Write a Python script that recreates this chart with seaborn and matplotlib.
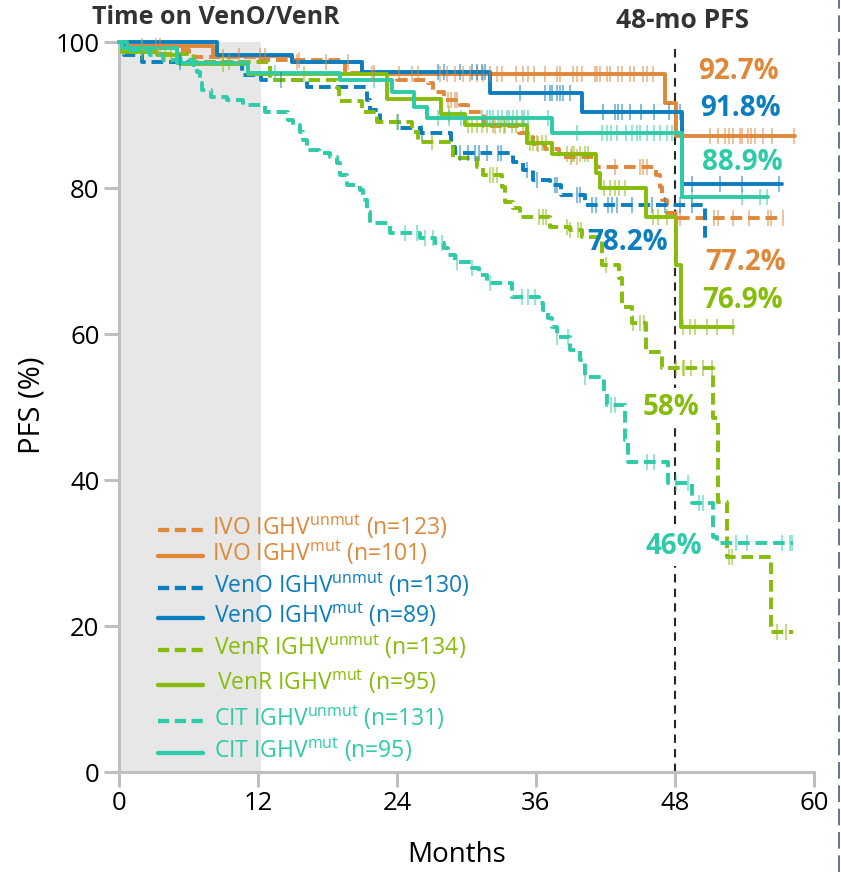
import numpy as np
import pandas as pd
import matplotlib
matplotlib.use("Agg")
import matplotlib.pyplot as plt
from matplotlib.lines import Line2D
import seaborn as sns

sns.set_theme(style="white")
plt.rcParams["font.family"] = ["Open Sans", "DejaVu Sans"]
plt.rcParams["mathtext.fontset"] = "custom"
plt.rcParams["mathtext.rm"] = "Open Sans"
plt.rcParams["mathtext.it"] = "Open Sans:italic"
plt.rcParams["mathtext.bf"] = "Open Sans:bold"

ORANGE = "#E0883A"
BLUE = "#0B7EC0"
GREEN = "#86BC0A"
TEAL = "#2ECBA9"

# ---- Kaplan-Meier step data: event times (months), PFS (%) after each step,
# ---- last follow-up time, and censoring times
ivo_unmut_t = [0.5, 5.0, 6.0, 12.0, 19.5, 24.0, 26.7, 27.1, 28.1, 29.4, 30.1, 31.5,
               34.5, 35.7, 36.8, 38.0, 41.2, 46.4, 46.7, 46.9, 47.3, 48.0]
ivo_unmut_s = [99.5, 98.9, 98.0, 97.5, 95.8, 94.8, 94.4, 93.2, 92.1, 91.4, 90.4, 88.5,
               87.5, 86.0, 85.3, 84.2, 82.9, 81.8, 80.1, 78.4, 76.6, 75.9]
ivo_unmut_end = 57.3
ivo_unmut_cens = [3.5, 9.0, 15.5, 22.0, 28.4, 28.7, 29.0, 29.2, 32.5, 33.2, 36.2, 39.0,
                  39.5, 42.8, 45.0, 45.2, 45.6, 48.2, 48.4, 51.4, 51.7, 53.0, 54.4,
                  56.0, 56.3, 57.3]

ivo_mut_t = [0.8, 8.1, 14.9, 21.0, 47.1, 48.1]
ivo_mut_s = [99.4, 98.1, 97.2, 95.6, 91.6, 87.1]
ivo_mut_end = 58.4
ivo_mut_cens = [2.0, 3.2, 10.4, 12.2, 12.6, 15.4, 17.9, 19.8, 21.8, 24.2, 25.3, 25.8,
                27.7, 28.3, 29.0, 29.7, 30.3, 30.9, 31.4, 32.0, 32.6, 33.1, 34.3, 34.9,
                35.3, 35.8, 36.8, 37.8, 38.1, 39.2, 39.5, 40.0, 41.1, 41.3, 41.5, 42.1,
                42.4, 43.1, 43.4, 44.1, 44.5, 45.2, 45.6, 46.1, 51.0, 51.7, 52.3, 52.7,
                53.0, 53.6, 53.8, 54.3, 54.6, 54.9, 55.6, 56.4, 58.3]

veno_unmut_t = [0.4, 2.0, 10.6, 12.3, 16.2, 21.4, 21.7, 22.5, 24.2, 26.1, 28.7, 29.0,
                34.0, 34.9, 35.7, 37.2, 38.2, 40.2, 50.6]
veno_unmut_s = [98.2, 97.2, 95.5, 94.8, 93.8, 92.1, 90.7, 89.0, 88.2, 87.5, 85.6, 84.8,
                83.6, 82.5, 81.1, 80.4, 79.0, 77.7, 73.2]
veno_unmut_end = 50.8
veno_unmut_cens = [5.3, 14.0, 24.1, 26.2, 29.4, 30.1, 30.7, 31.1, 31.8, 32.7, 33.0,
                   35.2, 36.1, 37.6, 37.8, 39.5, 39.8, 40.8, 41.2, 42.2, 42.6, 43.0,
                   44.3, 46.0, 47.1, 48.4, 49.5]

veno_mut_t = [8.5, 14.9, 21.0, 32.0, 40.0, 48.6]
veno_mut_s = [98.2, 97.3, 95.9, 93.0, 90.4, 80.5]
veno_mut_end = 57.2
veno_mut_cens = [27.5, 28.1, 29.4, 30.5, 30.9, 31.3, 31.6, 34.6, 36.8, 37.2, 37.4,
                 37.8, 38.1, 38.3, 38.9, 41.8, 42.8, 43.1, 43.4, 44.1, 45.1, 46.2,
                 47.5, 48.4, 49.5, 51.9, 53.8, 57.0]

venr_unmut_t = [0.3, 3.0, 6.5, 13.0, 18.8, 19.0, 21.0, 22.3, 25.3, 25.8, 28.8, 30.9,
                31.4, 33.1, 33.3, 34.0, 34.6, 37.2, 38.9, 40.0, 41.7, 43.2, 43.4, 44.3,
                45.5, 46.9, 51.3, 51.7, 52.5, 56.3]
venr_unmut_s = [99.0, 98.4, 97.2, 94.8, 93.7, 91.9, 90.4, 89.0, 87.7, 86.3, 84.1, 82.9,
                81.8, 80.1, 78.1, 77.3, 76.0, 74.7, 74.2, 73.3, 69.4, 67.7, 63.7, 61.5,
                57.5, 55.3, 48.5, 37.0, 29.4, 19.2]
venr_unmut_end = 58.2
venr_unmut_cens = [4.0, 9.5, 24.0, 27.0, 32.0, 32.3, 32.6, 36.3, 36.6, 36.9, 38.7,
                   38.9, 39.6, 39.9, 42.0, 44.4, 45.0, 45.3, 48.1, 48.7, 48.8, 49.4,
                   50.4, 51.2, 52.7, 52.9, 56.8, 57.6]

venr_mut_t = [0.3, 3.3, 5.3, 11.1, 23.1, 27.8, 29.9, 35.2, 37.4, 41.2, 41.5, 45.5,
              48.1, 48.5]
venr_mut_s = [98.6, 98.2, 97.0, 95.6, 92.2, 90.2, 88.6, 86.2, 84.7, 82.0, 80.0, 76.0,
              69.4, 61.0]
venr_mut_end = 53.0
venr_mut_cens = [2.0, 4.5, 9.0, 16.0, 28.5, 30.1, 30.5, 30.9, 31.3, 31.8, 32.3, 32.9,
                 33.3, 33.9, 34.3, 34.9, 35.5, 35.7, 36.1, 36.5, 36.9, 38.7, 39.1,
                 39.3, 39.8, 40.2, 40.5, 41.9, 42.4, 42.8, 43.2, 43.7, 46.1, 46.5,
                 47.3, 48.7, 49.3, 49.7, 50.8, 51.6, 53.0]

cit_unmut_t = [0.7, 2.7, 3.8, 6.4, 6.7, 7.0, 7.2, 7.9, 9.3, 10.7, 12.6, 14.6, 15.0,
               15.6, 15.9, 16.2, 17.3, 18.2, 18.8, 19.1, 19.7, 20.8, 21.1, 21.4, 21.7,
               23.4, 26.0, 27.3, 28.1, 28.4, 29.0, 30.5, 31.1, 31.8, 33.9, 36.3, 36.6,
               37.0, 37.4, 37.8, 38.9, 39.8, 40.2, 41.9, 42.1, 43.7, 43.9, 47.4, 49.5,
               51.3, 51.6]
cit_unmut_s = [98.9, 98.2, 97.6, 96.8, 95.9, 94.4, 93.4, 92.5, 92.1, 91.4, 90.4, 89.3,
               88.6, 87.7, 86.6, 85.2, 84.8, 84.2, 83.4, 81.8, 80.4, 79.7, 78.4, 76.7,
               75.2, 73.8, 73.2, 72.5, 71.8, 70.8, 69.9, 69.0, 68.1, 67.0, 65.1, 64.2,
               63.3, 62.2, 61.0, 59.6, 57.8, 56.4, 54.1, 52.0, 50.3, 45.5, 42.5, 39.6,
               36.8, 32.2, 31.4]
cit_unmut_end = 58.2
cit_unmut_cens = [24.7, 25.7, 26.4, 27.1, 27.9, 29.2, 30.5, 32.0, 34.8, 35.3, 35.9,
                  37.8, 38.8, 40.2, 42.5, 42.8, 45.6, 46.2, 48.1, 49.1, 50.1, 50.4,
                  53.3, 54.2, 57.2, 57.9, 58.1]

cit_mut_t = [0.3, 5.0, 11.1, 19.1, 23.6, 25.5, 26.6, 37.4, 48.6]
cit_mut_s = [99.2, 97.1, 95.8, 94.8, 93.2, 91.1, 89.6, 87.5, 78.8]
cit_mut_end = 56.0
cit_mut_cens = [2.0, 13.5, 22.0, 27.5, 28.5, 29.5, 31.3, 31.8, 32.0, 32.3, 32.7, 33.1,
                33.5, 33.7, 34.0, 34.4, 34.8, 35.0, 35.3, 37.0, 39.5, 41.7, 42.1, 42.5,
                43.0, 43.8, 44.3, 44.7, 45.0, 45.6, 46.2, 46.7, 47.3, 47.7, 49.5, 53.8,
                55.3, 55.9]

# legend content
arm_names = ["IVO", "IVO", "VenO", "VenO", "VenR", "VenR", "CIT", "CIT"]
ighv_status = ["unmut", "mut", "unmut", "mut", "unmut", "mut", "unmut", "mut"]
n_patients = [123, 101, 130, 89, 134, 95, 131, 95]

# 48-month PFS annotations
pfs48_text = ["92.7%", "91.8%", "88.9%", "78.2%", "77.2%", "76.9%", "58%", "46%"]
pfs48_color = [ORANGE, BLUE, TEAL, BLUE, ORANGE, GREEN, GREEN, TEAL]

x_ticks = [0, 12, 24, 36, 48, 60]
y_ticks = [0, 20, 40, 60, 80, 100]
treatment_window = 12.3
landmark = 48

series = [
    (ivo_unmut_t, ivo_unmut_s, ivo_unmut_end, ivo_unmut_cens, ORANGE, True),
    (ivo_mut_t, ivo_mut_s, ivo_mut_end, ivo_mut_cens, ORANGE, False),
    (veno_unmut_t, veno_unmut_s, veno_unmut_end, veno_unmut_cens, BLUE, True),
    (veno_mut_t, veno_mut_s, veno_mut_end, veno_mut_cens, BLUE, False),
    (venr_unmut_t, venr_unmut_s, venr_unmut_end, venr_unmut_cens, GREEN, True),
    (venr_mut_t, venr_mut_s, venr_mut_end, venr_mut_cens, GREEN, False),
    (cit_unmut_t, cit_unmut_s, cit_unmut_end, cit_unmut_cens, TEAL, True),
    (cit_mut_t, cit_mut_s, cit_mut_end, cit_mut_cens, TEAL, False),
]

DASH = (0, (3.0, 1.5))
LW = 2.8


def step_frame(times, surv, end):
    x = [0.0] + list(times) + [end]
    y = [100.0] + list(surv) + [surv[-1]]
    return pd.DataFrame({"Months": x, "PFS": y})


def surv_at(t, times, surv):
    i = np.searchsorted(times, t, side="right")
    return 100.0 if i == 0 else surv[i - 1]


fig = plt.figure(figsize=(8.41, 8.72), dpi=100)
ax = fig.add_axes([119 / 841, 100 / 872, 695 / 841, 730 / 872])


def at(px, py):
    """Pixel position in the figure -> data coordinates (layout helper)."""
    return (px - 119) / (695 / 60), (772 - py) / 7.30


# shaded on-treatment window
ax.fill_between([0, treatment_window], 0, 100, color="#E7E7E7", lw=0, zorder=0)

# landmark line
ax.plot([landmark, landmark], [0, at(0, 46)[1]], color="#262626", lw=1.5,
        ls=(0, (4, 3)), clip_on=False, zorder=1)

for times, surv, end, cens, color, dashed in series:
    df = step_frame(times, surv, end)
    sns.lineplot(data=df, x="Months", y="PFS", drawstyle="steps-post",
                 estimator=None, sort=False, color=color, lw=LW,
                 linestyle=DASH if dashed else "-", dash_capstyle="butt",
                 ax=ax, clip_on=False, zorder=3)
    cdf = pd.DataFrame({"Months": cens,
                        "PFS": [surv_at(t, times, surv) for t in cens]})
    sns.scatterplot(data=cdf, x="Months", y="PFS", marker="|", s=130,
                    color=color, linewidth=1.3, alpha=0.55, ax=ax,
                    clip_on=False, zorder=4)

# axes styling
ax.set_xlim(0, 60)
ax.set_ylim(0, 100)
ax.set_xticks(x_ticks)
ax.set_yticks(y_ticks)
for side in ("top", "right"):
    ax.spines[side].set_visible(False)
for side in ("left", "bottom"):
    ax.spines[side].set_color("#BFBFBF")
    ax.spines[side].set_linewidth(2.2)
ax.tick_params(axis="both", which="major", direction="out", length=11,
               width=2.2, color="#BFBFBF", labelsize=18.5, labelcolor="black",
               left=True, bottom=True, pad=3)
ax.set_xlabel("Months", fontsize=20, color="black")
ax.set_ylabel("PFS (%)", fontsize=21, color="black")
ax.xaxis.set_label_coords(0.486, -0.114)
ax.xaxis.label.set_va("center")
ax.yaxis.set_label_coords(-0.125, 0.503)
ax.yaxis.label.set_va("center")
ax.grid(False)

# titles
ax.text(*at(92, 18), "Time on VenO/VenR", ha="left", va="center", fontsize=18,
        fontweight="bold", color="#333333", clip_on=False)
ax.text(*at(683, 21), "48-mo PFS", ha="center", va="center", fontsize=19,
        fontweight="bold", color="#333333", clip_on=False)

# 48-month labels
label_pos = [(738, 72), (740, 108), (742, 162), (628, 243), (746, 262),
             (743, 301), (671, 407), (674, 547)]
for txt, col, (px, py) in zip(pfs48_text, pfs48_color, label_pos):
    kw = {}
    if txt in ("58%", "46%"):
        kw["bbox"] = dict(boxstyle="square,pad=0.15", fc="white", ec="none")
    ax.text(*at(px, py), txt, ha="center", va="center", fontsize=20,
            fontweight="bold", color=col, zorder=6, **kw)

# legend
legend_colors = [ORANGE, ORANGE, BLUE, BLUE, GREEN, GREEN, TEAL, TEAL]
legend_rows = [527, 553, 585, 615, 647, 682, 718, 750]
legend_text_x = [212, 212, 214, 214, 214, 217, 214, 214]
for name, status, n, col, row, tx in zip(arm_names, ighv_status, n_patients,
                                        legend_colors, legend_rows, legend_text_x):
    x0, y0 = at(158, row + 3)
    x1, _ = at(203, row + 3)
    ax.plot([x0, x1], [y0, y0], color=col, lw=LW + 0.3,
            ls=(0, (2.6, 1.3)) if status == "unmut" else "-",
            dash_capstyle="butt", zorder=5)
    ax.text(*at(tx, row), f"{name} IGHV$^{{\\mathrm{{{status}}}}}$ (n={n})",
            ha="left", va="center", fontsize=16.5, color=col, zorder=5)

# page-edge dashed rule
fig.add_artist(Line2D([838.5 / 841, 838.5 / 841], [0, 1], color="#4A5D7E", lw=1.2,
                      ls=(0, (10, 4))))

fig.savefig("out.png", dpi=100)
